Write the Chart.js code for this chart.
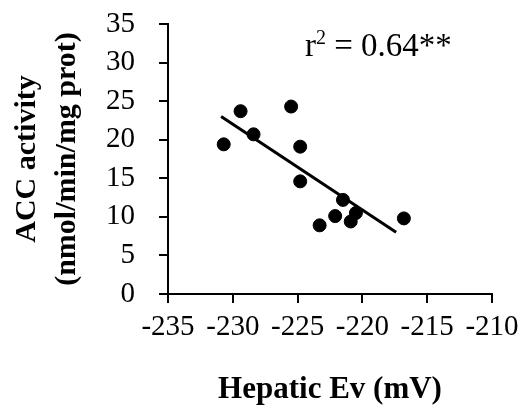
<!DOCTYPE html>
<html>
<head>
<meta charset="utf-8">
<script src="https://cdn.jsdelivr.net/npm/chart.js@4/dist/chart.umd.min.js"></script>
<style>
  html, body { margin: 0; padding: 0; background: #fff; }
  #wrap { width: 527px; height: 410px; position: relative; }
</style>
</head>
<body>
<div id="wrap"><canvas id="chart"></canvas></div>
<script>
// values
const evValues  = [-230.7, -229.4, -228.4, -225.5, -224.8, -224.8, -221.5, -222.1, -223.3, -220.5, -220.9, -216.8];
const accValues = [19.4, 23.7, 20.7, 24.3, 19.1, 14.6, 12.2, 10.1, 8.9, 10.5, 9.4, 9.8];
const trendX = [-230.9, -217.4];
const trendY = [23.0, 8.0];
const xTicks = [-235, -230, -225, -220, -215, -210];
const yTicks = [0, 5, 10, 15, 20, 25, 30, 35];
const fitLabel = { base: 'r', sup: '2', rest: ' = 0.64**' };

const serif = '"Liberation Serif", "Times New Roman", serif';

/* ---------- r² label ---------- */
const fitText = {
  id: 'fitText',
  afterDraw(chart) {
    const ctx = chart.ctx;
    ctx.save();
    ctx.fillStyle = '#000';
    ctx.textBaseline = 'alphabetic';
    let x = 305, y = 56;
    ctx.font = `33px ${serif}`;
    ctx.fillText(fitLabel.base, x, y);
    x += ctx.measureText(fitLabel.base).width;
    ctx.font = `20px ${serif}`;
    ctx.fillText(fitLabel.sup, x, y - 12);
    x += ctx.measureText(fitLabel.sup).width;
    ctx.font = `33px ${serif}`;
    ctx.fillText(fitLabel.rest, x, y);
    ctx.restore();
  }
};

const axisCommon = {
  type: 'linear',
  grid: { display: true, drawOnChartArea: false, drawTicks: true, tickLength: 9, color: '#000', lineWidth: 2 },
  border: { display: true, color: '#000', width: 2 }
};

new Chart(document.getElementById('chart'), {
  type: 'scatter',
  data: {
    datasets: [
      {
        type: 'scatter',
        data: evValues.map((x, i) => ({ x, y: accValues[i] })),
        backgroundColor: '#000',
        borderColor: '#000',
        pointRadius: 6.5,
        pointHoverRadius: 6.5
      },
      {
        type: 'line',
        data: trendX.map((x, i) => ({ x, y: trendY[i] })),
        borderColor: '#000',
        borderWidth: 3,
        pointRadius: 0,
        fill: false
      }
    ]
  },
  options: {
    responsive: true,
    maintainAspectRatio: false,
    animation: false,
    events: [],
    layout: { padding: { top: 24, right: 35, left: 0, bottom: 0 } },
    plugins: { legend: { display: false }, tooltip: { enabled: false } },
    scales: {
      x: {
        ...axisCommon,
        min: xTicks[0],
        max: xTicks[xTicks.length - 1],
        afterBuildTicks: (s) => { s.ticks = xTicks.map(v => ({ value: v })); },
        afterFit: (s) => { s.height = 116; s.paddingLeft = 0; s.paddingRight = 0; },
        ticks: { color: '#000', padding: 7, maxRotation: 0, autoSkip: false, font: { family: serif, size: 29 } },
        title: { display: true, text: 'Hepatic Ev (mV)', color: '#000', padding: { top: 0, bottom: 1 }, font: { family: serif, size: 31, weight: 'bold' } }
      },
      y: {
        ...axisCommon,
        min: yTicks[0],
        max: yTicks[yTicks.length - 1],
        afterBuildTicks: (s) => { s.ticks = yTicks.map(v => ({ value: v })); },
        afterFit: (s) => { s.width = 168; s.paddingTop = 0; s.paddingBottom = 0; },
        ticks: { color: '#000', padding: 24, autoSkip: false, font: { family: serif, size: 29 } },
        title: {
          display: true,
          text: ['ACC activity', '(nmol/min/mg prot)'],
          color: '#000',
          padding: { top: 7, bottom: 0 },
          font: { family: serif, size: 30, weight: 'bold', lineHeight: 1.333 }
        }
      }
    }
  },
  plugins: [fitText]
});
</script>
</body>
</html>
